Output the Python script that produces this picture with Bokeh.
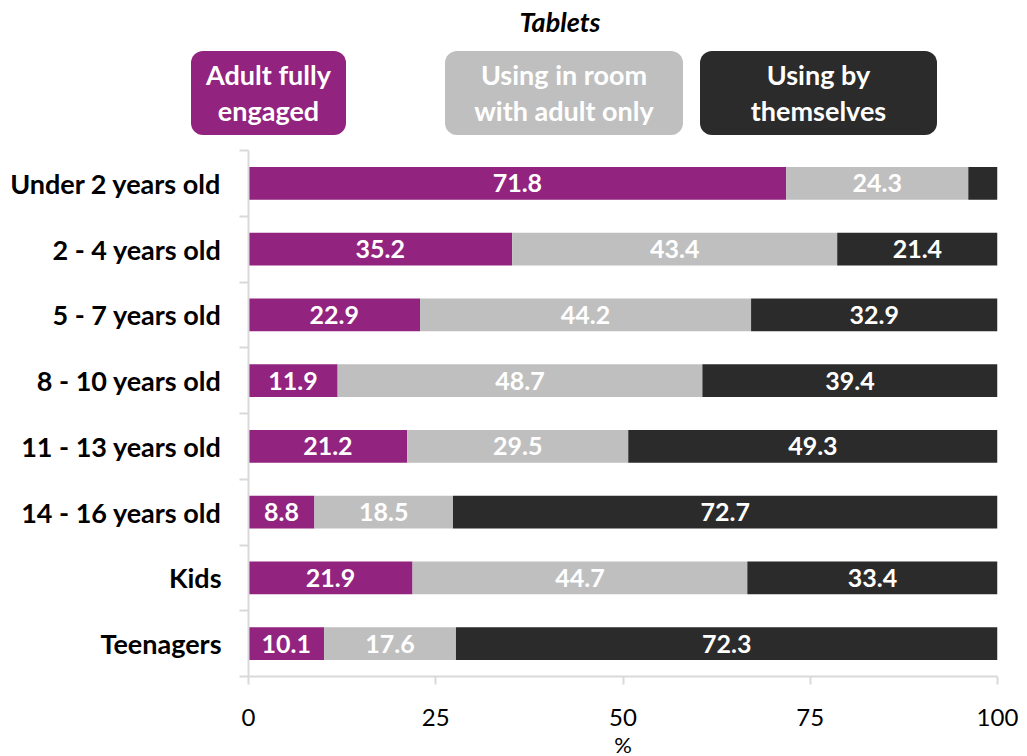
from bokeh.plotting import figure
from bokeh.models import (Range1d, ColumnDataSource, FixedTicker, Div, LinearAxis)
from bokeh.layouts import column
from bokeh.core.properties import value
from bokeh.embed import file_html
from bokeh.resources import INLINE

# ---------------- data ----------------
categories = ["Under 2 years old", "2 - 4 years old", "5 - 7 years old", "8 - 10 years old",
              "11 - 13 years old", "14 - 16 years old", "Kids", "Teenagers"]
adult_fully_engaged = [71.8, 35.2, 22.9, 11.9, 21.2, 8.8, 21.9, 10.1]
in_room_with_adult = [24.3, 43.4, 44.2, 48.7, 29.5, 18.5, 44.7, 17.6]
by_themselves = [3.9, 21.4, 32.9, 39.4, 49.3, 72.7, 33.4, 72.3]
series_names = ["Adult fully\nengaged", "Using in room\nwith adult only", "Using by\nthemselves"]
colors = ["#92237f", "#bfbfbf", "#2b2b2b"]
x_ticks = [0, 25, 50, 75, 100]
chart_title = "Tablets"
x_label = "%"

FONT = "Lato"
AXIS_GRAY = "#d9d9d9"
series = [adult_fully_engaged, in_room_with_adult, by_themselves]

W = 1019
HEAD_H = 144

# ---------------- header (title + legend boxes) ----------------
box_pos = [(191, 155), (445, 238), (700, 237)]  # layout only (left, width)
parts = [f'<div style="position:absolute;left:410px;top:7px;width:300px;height:30px;'
         f'line-height:30px;text-align:center;font-size:27px;font-weight:bold;'
         f'font-style:italic;color:black;">{chart_title}</div>']
for (l, w), name, c in zip(box_pos, series_names, colors):
    parts.append(
        f'<div style="position:absolute;left:{l}px;top:51px;width:{w}px;height:84px;'
        f'background:{c};border-radius:12px;display:flex;align-items:center;'
        f'justify-content:center;text-align:center;color:white;font-size:27px;'
        f'font-weight:bold;line-height:36px;">{name.replace(chr(10), "<br>")}</div>')
html = (f'<div style="position:relative;width:{W}px;height:{HEAD_H}px;font-family:{FONT};">'
        + "".join(parts) + '</div>')
head = Div(text=html, width=W, height=HEAD_H, margin=0)

# ---------------- main chart ----------------
n = len(categories)
# numeric band positions: first category at top
ypos = [n - i - 0.5 for i in range(n)]

p = figure(frame_width=749, frame_height=526, y_range=Range1d(0, n),
           x_range=Range1d(0, 100), output_backend="svg", toolbar_location=None,
           y_axis_location=None,
           min_border_left=248, min_border_right=22, min_border_top=6, min_border_bottom=0,
           outline_line_color=None, margin=0)
p.grid.visible = False

left = [0.0] * n
for vals, c in zip(series, colors):
    right = [a + b for a, b in zip(left, vals)]
    mids = [(a + b) / 2 for a, b in zip(left, right)]
    src = ColumnDataSource(dict(y=ypos, left=left, right=right))
    p.hbar(y="y", left="left", right="right", height=0.5, fill_color=c, line_color=None, source=src)
    keep = [i for i, v in enumerate(vals) if v >= 5]
    lab_src = ColumnDataSource(dict(y=[ypos[i] for i in keep],
                                    mid=[mids[i] for i in keep],
                                    lab=["%.1f" % vals[i] for i in keep]))
    p.text(x="mid", y="y", text="lab", source=lab_src, text_font=value(FONT),
           text_font_size="25px", text_font_style="bold", text_color="white",
           text_align="center", text_baseline="middle")
    left = right

# y axis: boundary ticks (Excel style) + category labels
bound_axis = LinearAxis(ticker=FixedTicker(ticks=list(range(n + 1))),
                        axis_line_color=AXIS_GRAY, axis_line_width=2,
                        major_tick_line_color=AXIS_GRAY, major_tick_line_width=2,
                        major_tick_out=9, major_tick_in=0, minor_tick_line_color=None,
                        major_label_text_font_size="0px", major_label_standoff=0,
                        major_label_text_color=None)
p.add_layout(bound_axis, "left")
cat_axis = LinearAxis(ticker=FixedTicker(ticks=ypos),
                      major_label_overrides={y: c for y, c in zip(ypos, categories)},
                      axis_line_color=None, major_tick_line_color=None,
                      minor_tick_line_color=None,
                      major_label_text_font=FONT, major_label_text_font_size="27px",
                      major_label_text_font_style="bold", major_label_text_color="black",
                      major_label_standoff=12)
p.add_layout(cat_axis, "left")

p.xaxis.ticker = FixedTicker(ticks=x_ticks)
p.xaxis.axis_line_color = AXIS_GRAY
p.xaxis.axis_line_width = 2
p.xaxis.major_tick_line_color = AXIS_GRAY
p.xaxis.major_tick_line_width = 2
p.xaxis.major_tick_out = 8
p.xaxis.major_tick_in = 0
p.xaxis.minor_tick_line_color = None
p.xaxis.major_label_text_font = FONT
p.xaxis.major_label_text_font_size = "24px"
p.xaxis.major_label_text_color = "black"
p.xaxis.major_label_standoff = 24
p.xaxis.axis_label = x_label
p.xaxis.axis_label_text_font = FONT
p.xaxis.axis_label_text_font_size = "22px"
p.xaxis.axis_label_text_font_style = "normal"
p.xaxis.axis_label_text_color = "black"
p.xaxis.axis_label_standoff = 2

layout = column(head, p, spacing=0)
open("out.html", "w").write(file_html(layout, INLINE))
